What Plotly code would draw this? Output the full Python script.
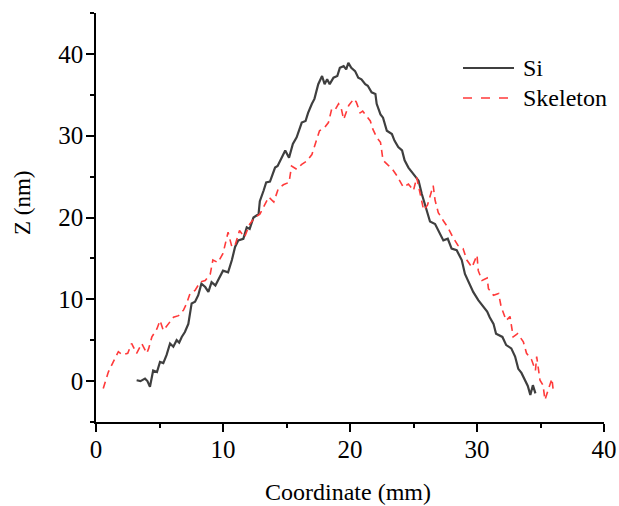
import plotly.graph_objects as go

# ---- data ----
si_x = [3.2, 3.5, 3.86, 4.05, 4.25, 4.5, 4.8, 5.04, 5.3, 5.56, 5.83, 6.09, 6.35, 6.55, 6.75, 7.0, 7.27, 7.4, 7.53, 7.8,
        8.05, 8.3, 8.6, 8.85, 9.1, 9.4, 9.76, 10.0, 10.4, 10.7, 10.95, 11.2, 11.6, 11.87, 12.1, 12.4, 12.8, 12.9, 13.2, 13.4,
        13.7, 14.1, 14.3, 14.6, 14.9, 15.2, 15.5, 15.8, 16.2, 16.5, 16.7, 17.0, 17.2, 17.5, 17.8, 18.0, 18.2, 18.4, 18.7, 19.0,
        19.2, 19.5, 19.7, 19.87, 20.1, 20.4, 20.65, 20.9, 21.2, 21.4, 21.7, 22.0, 22.1, 22.4, 22.6, 22.9, 23.3, 23.5, 23.8, 24.1,
        24.3, 24.6, 25.0, 25.2, 25.4, 25.65, 25.8, 26.0, 26.3, 26.7, 27.0, 27.35, 27.7, 28.0, 28.4, 28.8, 29.05, 29.3, 29.7, 30.1,
        30.5, 30.8, 31.0, 31.3, 31.5, 32.0, 32.3, 32.7, 33.0, 33.25, 33.5, 33.8, 34.0, 34.2, 34.4, 34.6]
si_y = [0.1, 0.0, 0.3, 0.0, -0.7, 1.3, 1.1, 2.35, 2.2, 3.2, 4.6, 4.2, 5.0, 4.7, 5.4, 6.0, 7.0, 8.2, 9.5, 9.7,
        10.5, 11.9, 11.5, 10.9, 12.1, 11.7, 12.7, 13.5, 13.3, 14.8, 16.4, 17.2, 17.4, 18.8, 18.6, 20.0, 20.4, 22.0, 23.3, 24.3,
        24.4, 26.1, 26.3, 27.3, 28.2, 27.3, 29.0, 29.8, 31.6, 31.8, 32.8, 33.9, 34.5, 36.3, 37.3, 36.3, 36.9, 36.3, 37.1, 37.3,
        38.3, 38.5, 38.1, 38.9, 38.3, 37.9, 37.1, 36.9, 36.3, 36.1, 35.3, 35.1, 33.9, 32.6, 32.2, 30.6, 30.2, 29.4, 28.6, 28.2,
        27.0, 26.1, 25.3, 24.9, 24.5, 22.9, 22.1, 20.9, 19.5, 19.2, 18.2, 17.2, 17.4, 16.2, 16.0, 14.8, 13.1, 12.3, 10.9, 9.9,
        9.1, 8.5, 7.8, 7.0, 5.8, 5.4, 4.4, 4.0, 3.0, 1.5, 1.0, -0.1, -0.6, -1.7, -0.5, -1.5]

sk_x = [0.57, 0.97, 1.36, 1.76, 2.1, 2.5, 2.8, 3.2, 3.6, 4.0, 4.15, 4.4, 4.8, 5.04, 5.3, 5.6, 6.1, 6.5, 6.9, 7.14,
        7.4, 7.8, 8.2, 8.6, 9.0, 9.2, 9.6, 10.0, 10.4, 10.7, 10.95, 11.3, 11.7, 12.1, 12.5, 12.9, 13.3, 13.6, 14.0, 14.35,
        14.75, 15.2, 15.4, 15.8, 16.2, 16.6, 17.0, 17.2, 17.6, 18.0, 18.3, 18.55, 18.8, 19.1, 19.3, 19.5, 19.9, 20.3, 20.5, 20.8,
        21.0, 21.3, 21.6, 21.8, 22.1, 22.4, 22.6, 23.0, 23.3, 23.7, 23.9, 24.2, 24.6, 25.0, 25.25, 25.5, 25.8, 26.1, 26.55, 26.7,
        26.95, 27.35, 27.7, 28.1, 28.5, 28.9, 29.2, 29.6, 30.0, 30.1, 30.4, 30.8, 30.9, 31.3, 31.7, 31.9, 32.3, 32.6, 32.85, 33.2,
        33.65, 33.9, 34.3, 34.6, 34.7, 34.96, 35.2, 35.35, 35.6, 35.9, 36.0]
sk_y = [-0.9, 1.1, 2.35, 3.6, 3.2, 3.4, 4.6, 3.4, 4.6, 3.4, 4.0, 5.4, 6.4, 7.4, 6.2, 6.8, 7.8, 8.0, 8.7, 9.5,
        10.7, 11.1, 12.1, 12.3, 13.1, 14.8, 14.5, 15.6, 18.2, 16.4, 16.6, 18.4, 17.6, 19.2, 20.0, 20.4, 21.5, 22.5, 21.9, 23.5,
        24.0, 24.3, 26.3, 25.9, 26.5, 26.9, 27.7, 28.6, 30.6, 31.0, 31.6, 33.2, 33.1, 33.9, 33.4, 32.0, 33.7, 34.5, 34.1, 32.8,
        33.0, 32.4, 31.8, 30.8, 29.8, 29.2, 27.0, 26.4, 26.0, 25.1, 24.5, 23.7, 24.1, 23.3, 24.9, 23.1, 20.9, 21.5, 23.9, 22.1,
        20.6, 19.6, 18.8, 17.6, 16.6, 16.2, 14.8, 13.9, 15.4, 13.5, 12.3, 12.6, 11.3, 10.5, 10.7, 9.1, 7.4, 7.9, 5.4, 5.8,
        4.8, 3.4, 2.6, 1.3, 3.0, 0.1, -0.5, -2.3, -1.0, 0.3, -1.1]

series_names = ["Si", "Skeleton"]
x_ticks = [0, 10, 20, 30, 40]
y_ticks = [0, 10, 20, 30, 40]

FONT = "Liberation Serif, Times New Roman, Times, serif"
SI_COLOR = "#3f3f3f"
SK_COLOR = "#ff3a3a"

fig = go.Figure()
fig.add_trace(go.Scatter(x=si_x, y=si_y, mode="lines", name=series_names[0],
                         line=dict(color=SI_COLOR, width=2.2), showlegend=False))
fig.add_trace(go.Scatter(x=sk_x, y=sk_y, mode="lines", name=series_names[1],
                         line=dict(color=SK_COLOR, width=1.6, dash="7px,5px"), showlegend=False))

axis_common = dict(showline=True, linecolor="black", linewidth=1.5, mirror=False,
                   ticks="outside", ticklen=8, tickwidth=1.5, tickcolor="black",
                   showgrid=False, zeroline=False, automargin=False,
                   tickfont=dict(family=FONT, size=25, color="black"))

fig.update_xaxes(range=[0, 40], tickvals=x_ticks, ticklabelstandoff=-4,
                 minor=dict(dtick=5, tick0=0, ticks="outside", ticklen=4, tickwidth=1.5, tickcolor="black", showgrid=False),
                 **axis_common)
fig.update_yaxes(range=[-5, 45], tickvals=y_ticks, ticklabelstandoff=-2,
                 minor=dict(dtick=5, tick0=0, ticks="outside", ticklen=4, tickwidth=1.5, tickcolor="black", showgrid=False),
                 **axis_common)

# plot area in pixels: left 96, right 604, top 13, bottom 422
W, H = 619, 506
L, R, T, B = 96, 15, 13, 84
pw, ph = W - L - R, H - T - B

def px_x(p):
    return (p - L) / pw

def px_y(p):
    return (H - B - p) / ph

annotations = [
    dict(text="Coordinate (mm)", x=px_x(348), y=px_y(492), xref="paper", yref="paper",
         showarrow=False, xanchor="center", yanchor="middle",
         font=dict(family=FONT, size=24, color="black")),
    dict(text="Z (nm)", x=px_x(22), y=px_y(203), xref="paper", yref="paper",
         showarrow=False, xanchor="center", yanchor="middle", textangle=-90,
         font=dict(family=FONT, size=23, color="black")),
]
shapes = []
legend_rows = [(series_names[0], SI_COLOR, "solid", 2.0, 68), (series_names[1], SK_COLOR, "dash", 1.6, 98)]
for name, col, dsh, lw, ypx in legend_rows:
    shapes.append(dict(type="line", xref="paper", yref="paper",
                       x0=px_x(463), x1=px_x(514), y0=px_y(ypx), y1=px_y(ypx),
                       line=dict(color=col, width=lw, dash=dsh)))
    annotations.append(dict(text=name, x=px_x(521), y=px_y(ypx), xref="paper", yref="paper",
                            showarrow=False, xanchor="left", yanchor="middle",
                            font=dict(family=FONT, size=24, color="black")))

fig.update_layout(width=W, height=H, margin=dict(l=L, r=R, t=T, b=B),
                  font=dict(family=FONT, color="black"),
                  paper_bgcolor="white", plot_bgcolor="white",
                  annotations=annotations, shapes=shapes, showlegend=False)

fig.write_html("out.html")
